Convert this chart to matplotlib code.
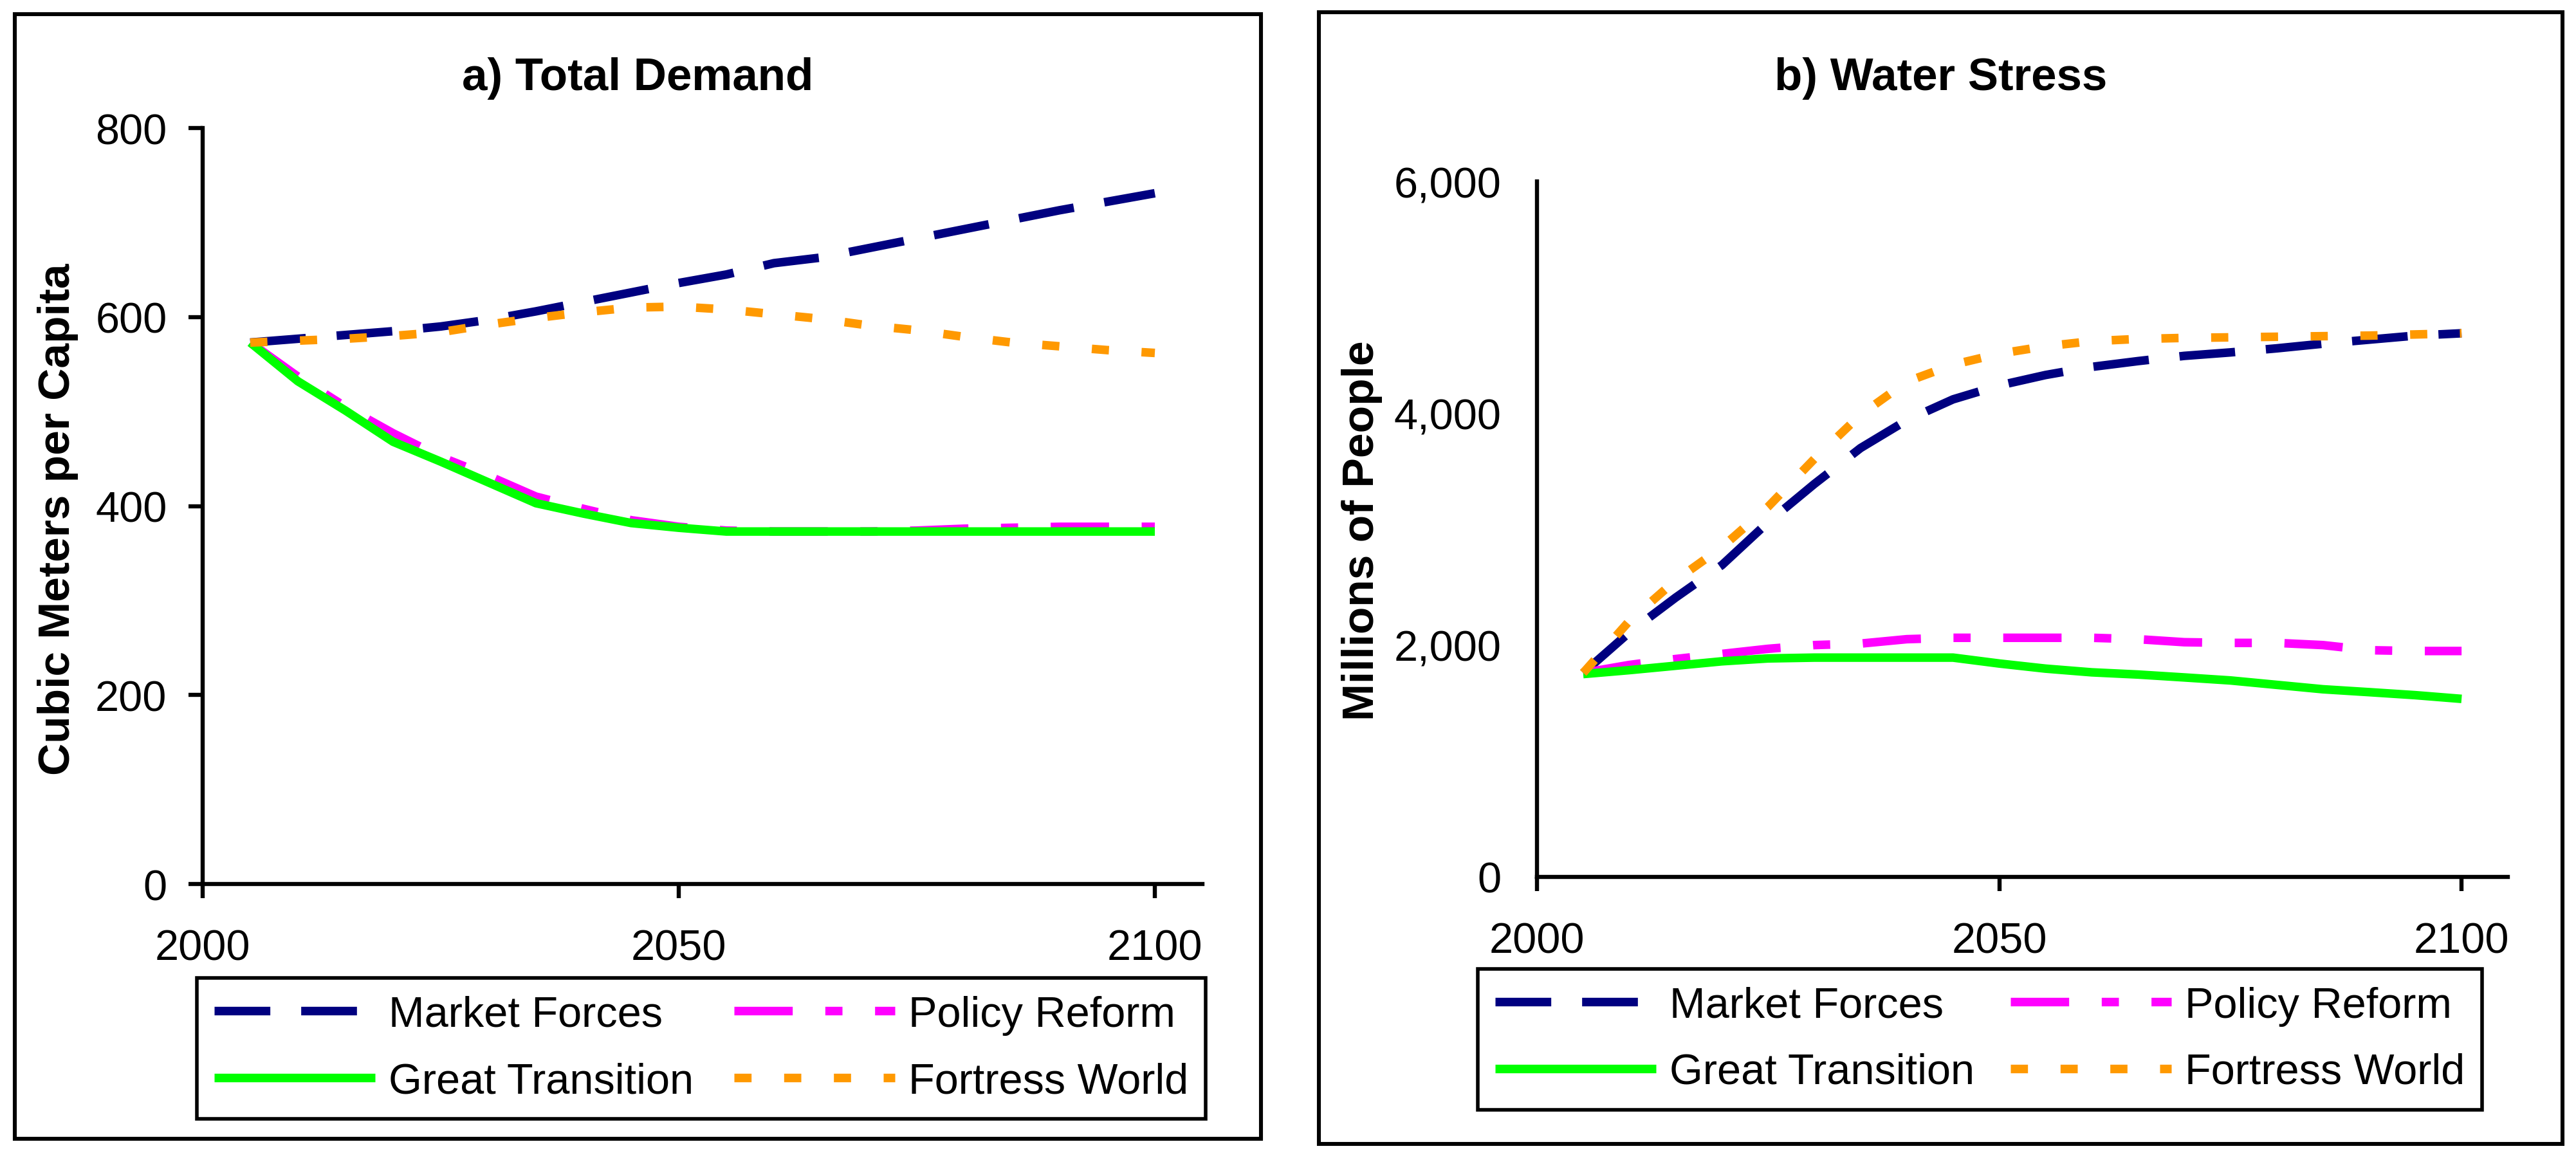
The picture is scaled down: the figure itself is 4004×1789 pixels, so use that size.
import matplotlib
matplotlib.use("Agg")
import matplotlib.pyplot as plt
from matplotlib.patches import Rectangle

plt.rcParams["font.family"] = ["Liberation Sans", "DejaVu Sans"]

YEARS = [2005, 2010, 2015, 2020, 2025, 2030, 2035, 2040, 2045, 2050,
         2055, 2060, 2065, 2070, 2075, 2080, 2085, 2090, 2095, 2100]

# a) Total Demand, cubic meters per capita
demand_market = [573, 577, 581, 585, 590, 597, 606, 616, 626, 636,
                 645, 657, 663, 673, 683, 693, 703, 713, 722, 731]
demand_policy = [573, 537, 505, 477, 452, 432, 410, 397, 385, 378,
                 374, 373, 373, 373, 374, 376, 377, 378, 378, 378]
demand_great = [573, 532, 501, 468, 447, 425, 403, 392, 382, 377,
                373, 373, 373, 373, 373, 373, 373, 373, 373, 373]
demand_fortress = [573, 575, 577, 580, 584, 592, 599, 605, 610, 611,
                   608, 603, 598, 591, 586, 579, 573, 569, 565, 562]

# b) Water Stress, millions of people
stress_market = [1760, 2110, 2410, 2690, 3060, 3390, 3700, 3940, 4120, 4240,
                 4330, 4400, 4450, 4495, 4525, 4560, 4600, 4635, 4670, 4690]
stress_policy = [1760, 1829, 1880, 1924, 1968, 2000, 2013, 2051, 2063, 2063,
                 2063, 2063, 2051, 2025, 2019, 2019, 2000, 1956, 1949, 1949]
stress_great = [1750, 1784, 1822, 1860, 1885, 1892, 1892, 1892, 1892, 1841,
                1797, 1765, 1746, 1721, 1695, 1657, 1619, 1594, 1568, 1536]
stress_fortress = [1760, 2209, 2559, 2844, 3194, 3606, 3987, 4273, 4419, 4514,
                   4578, 4622, 4641, 4650, 4655, 4660, 4665, 4670, 4680, 4690]

SCENARIOS = ["Market Forces", "Policy Reform", "Great Transition", "Fortress World"]
COLORS = ["#000080", "#FF00FF", "#00FF00", "#FF9900"]
DASHES = [(6.5, 3.6), (6.8, 3.8, 2.0, 3.8), None, (2.0, 3.8)]

XTICKS = [2000, 2050, 2100]
YTICKS_A = [0, 200, 400, 600, 800]
YTICKS_B = [0, 2000, 4000, 6000]
YLABELS_B = ["0", "2,000", "4,000", "6,000"]

W, H = 4004, 1790
DPI = 200
LW = 4.8


def fx(px):
    return px / W


def fy(py):
    return 1 - py / H


def draw_panel(fig, rect, axpos, series, title, ylabel, ylabel_xy,
               yticks, yticklabels, ylim, ytick_len, ytick_pad, legend_box):
    # outer frame of the panel
    x0, y0, x1, y1 = rect
    fig.patches.append(Rectangle((fx(x0), fy(y1)), fx(x1 - x0), (y1 - y0) / H,
                                 transform=fig.transFigure, fill=False,
                                 edgecolor="black", linewidth=2.2))
    ax = fig.add_axes(axpos)
    lines = []
    for name, vals, col, dsh in zip(SCENARIOS, series, COLORS, DASHES):
        if dsh is None:
            ln, = ax.plot(YEARS, vals, color=col, lw=LW, label=name,
                          solid_capstyle="butt")
        else:
            ln, = ax.plot(YEARS, vals, color=col, lw=LW, label=name,
                          dashes=dsh, dash_capstyle="butt")
        lines.append(ln)
    ax.set_xlim(2000, 2105)
    ax.set_ylim(*ylim)
    ax.set_xticks(XTICKS)
    ax.set_xticklabels([str(t) for t in XTICKS])
    ax.set_yticks(yticks)
    ax.set_yticklabels(yticklabels)
    for s in ["top", "right"]:
        ax.spines[s].set_visible(False)
    for s in ["left", "bottom"]:
        ax.spines[s].set_linewidth(2.3)
    ax.tick_params(axis="x", direction="out", length=8, width=2.3,
                   labelsize=24, pad=17)
    ax.tick_params(axis="y", direction="out", length=ytick_len, width=2.3,
                   labelsize=24, pad=ytick_pad)
    ax.patch.set_alpha(0)

    cx = (x0 + x1) / 2
    fig.text(fx(cx), fy(122), title, ha="center", va="center",
             fontsize=25.5, fontweight="bold")
    fig.text(fx(ylabel_xy[0]), fy(ylabel_xy[1]), ylabel, rotation=90,
             ha="center", va="center", fontsize=25, fontweight="bold")

    lx0, ly0, lx1, ly1 = legend_box
    order = [lines[0], lines[2], lines[1], lines[3]]
    leg = ax.legend(order, [l.get_label() for l in order], ncol=2,
                    loc="upper left", mode="expand",
                    bbox_to_anchor=(fx(lx0), fy(ly1), fx(lx1 - lx0), (ly1 - ly0) / H),
                    bbox_transform=fig.transFigure, borderaxespad=0,
                    fontsize=24, handlelength=3.76, handletextpad=0.31,
                    borderpad=0.4, labelspacing=0.62, columnspacing=0.5,
                    fancybox=False, framealpha=1, edgecolor="black")
    leg.get_frame().set_linewidth(2.0)
    return ax


fig = plt.figure(figsize=(W / DPI, H / DPI), dpi=DPI)

draw_panel(fig, (23, 23, 1960, 1771),
           [fx(315), fy(1375), fx(1869 - 315), (1375 - 200) / H],
           [demand_market, demand_policy, demand_great, demand_fortress],
           "a) Total Demand", "Cubic Meters per Capita", (90, 807),
           YTICKS_A, [str(t) for t in YTICKS_A], (0, 800), 8, 12,
           (306, 1521, 1874, 1767))

draw_panel(fig, (2050, 20, 3983, 1779),
           [fx(2389), fy(1364), fx(3898 - 2389), (1364 - 283) / H],
           [stress_market, stress_policy, stress_great, stress_fortress],
           "b) Water Stress", "Millions of People", (2117, 825),
           YTICKS_B, YLABELS_B, (0, 6000), 0, 20,
           (2297, 1507, 3858, 1760))

fig.savefig("out.png", dpi=DPI)
